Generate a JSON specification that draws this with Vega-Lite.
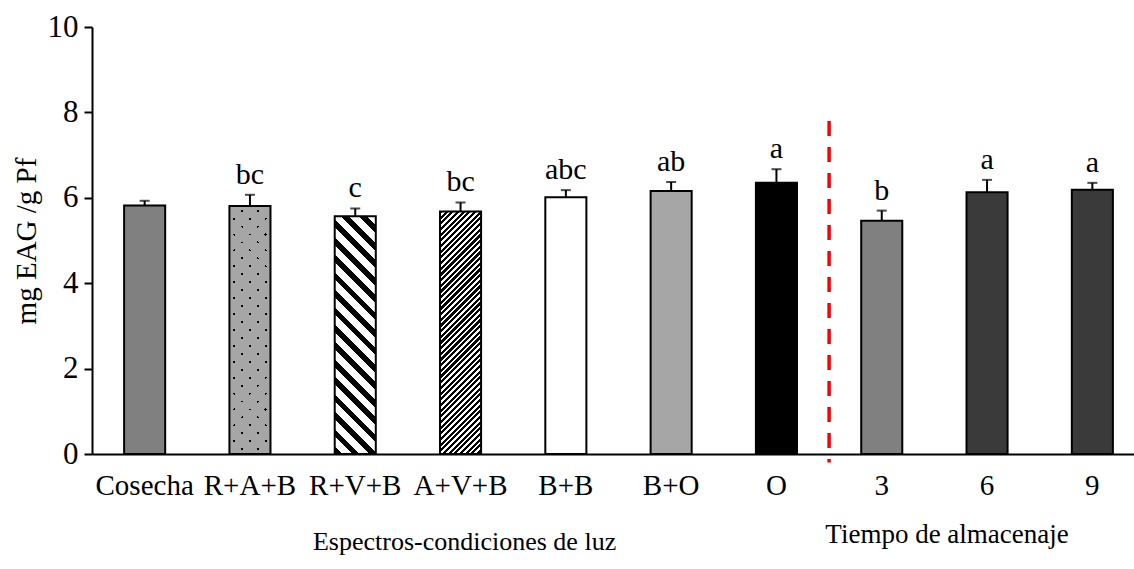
{
  "$schema": "https://vega.github.io/schema/vega-lite/v6.json",
  "width": 1042,
  "height": 427,
  "autosize": "none",
  "padding": {"left": 92, "top": 27, "right": 0, "bottom": 115},
  "background": "white",
  "config": {
    "view": {"stroke": null},
    "axis": {
      "grid": false,
      "labelFont": "Liberation Serif",
      "titleFont": "Liberation Serif",
      "labelColor": "#000",
      "titleColor": "#000",
      "domainColor": "#000",
      "tickColor": "#000",
      "titleFontWeight": "normal",
      "domainWidth": 2,
      "tickWidth": 2
    }
  },
  "datasets": {
    "fenoles": [
      {"cat": "Cosecha", "value": 5.82, "upper": 5.93, "letter": ""},
      {"cat": "R+A+B", "value": 5.81, "upper": 6.07, "letter": "bc"},
      {"cat": "R+V+B", "value": 5.57, "upper": 5.75, "letter": "c"},
      {"cat": "A+V+B", "value": 5.68, "upper": 5.89, "letter": "bc"},
      {"cat": "B+B", "value": 6.01, "upper": 6.18, "letter": "abc"},
      {"cat": "B+O", "value": 6.16, "upper": 6.37, "letter": "ab"},
      {"cat": "O", "value": 6.35, "upper": 6.67, "letter": "a"},
      {"cat": "3", "value": 5.46, "upper": 5.70, "letter": "b"},
      {"cat": "6", "value": 6.13, "upper": 6.42, "letter": "a"},
      {"cat": "9", "value": 6.19, "upper": 6.35, "letter": "a"}
    ]
  },
  "data": {"name": "fenoles"},
  "encoding": {
    "x": {
      "field": "cat",
      "type": "nominal",
      "sort": null,
      "scale": {
        "domain": ["Cosecha", "R+A+B", "R+V+B", "A+V+B", "B+B", "B+O", "O", "3", "6", "9"],
        "range": [0, 1053],
        "paddingInner": 0.61,
        "paddingOuter": 0.305
      },
      "axis": {
        "title": null,
        "ticks": false,
        "labelAngle": 0,
        "labelFontSize": 29,
        "labelPadding": 17,
        "labelBaseline": "top"
      }
    }
  },
  "layer": [
    {
      "mark": {"type": "bar", "strokeWidth": 0},
      "encoding": {
        "y": {
          "field": "value",
          "type": "quantitative",
          "scale": {"domain": [0, 10], "nice": false},
          "axis": {
            "values": [0, 2, 4, 6, 8, 10],
            "tickSize": 8,
            "labelFontSize": 31,
            "labelPadding": 6,
            "title": "mg EAG /g Pf",
            "titleFontSize": 29,
            "titlePadding": 6
          }
        },
        "fill": {
          "field": "cat",
          "type": "nominal",
          "legend": null,
          "scale": {
            "domain": ["Cosecha", "R+A+B", "R+V+B", "A+V+B", "B+B", "B+O", "O", "3", "6", "9"],
            "range": ["#808080", "#a6a6a6", "#ffffff", "#ffffff", "#ffffff", "#a6a6a6", "#000000", "#808080", "#3a3a3a", "#3a3a3a"]
          }
        }
      }
    },
    {
      "transform": [{"filter": "datum.cat === 'R+A+B'"}],
      "mark": {
        "type": "bar",
        "strokeWidth": 0,
        "fill": {
          "gradient": "linear", "x1": 0, "y1": 0, "x2": 0.1878, "y2": 1.1346,
          "stops": [
            {"offset": 0, "color": "#000"}, {"offset": 0.01, "color": "#000"}, {"offset": 0.01, "color": "rgba(0,0,0,0)"}, {"offset": 0.055, "color": "rgba(0,0,0,0)"},
            {"offset": 0.055, "color": "#000"}, {"offset": 0.065, "color": "#000"}, {"offset": 0.065, "color": "rgba(0,0,0,0)"}, {"offset": 0.11, "color": "rgba(0,0,0,0)"},
            {"offset": 0.11, "color": "#000"}, {"offset": 0.12, "color": "#000"}, {"offset": 0.12, "color": "rgba(0,0,0,0)"}, {"offset": 0.165, "color": "rgba(0,0,0,0)"},
            {"offset": 0.165, "color": "#000"}, {"offset": 0.175, "color": "#000"}, {"offset": 0.175, "color": "rgba(0,0,0,0)"}, {"offset": 0.22, "color": "rgba(0,0,0,0)"},
            {"offset": 0.22, "color": "#000"}, {"offset": 0.23, "color": "#000"}, {"offset": 0.23, "color": "rgba(0,0,0,0)"}, {"offset": 0.275, "color": "rgba(0,0,0,0)"},
            {"offset": 0.275, "color": "#000"}, {"offset": 0.285, "color": "#000"}, {"offset": 0.285, "color": "rgba(0,0,0,0)"}, {"offset": 0.33, "color": "rgba(0,0,0,0)"},
            {"offset": 0.33, "color": "#000"}, {"offset": 0.34, "color": "#000"}, {"offset": 0.34, "color": "rgba(0,0,0,0)"}, {"offset": 0.385, "color": "rgba(0,0,0,0)"},
            {"offset": 0.385, "color": "#000"}, {"offset": 0.395, "color": "#000"}, {"offset": 0.395, "color": "rgba(0,0,0,0)"}, {"offset": 0.44, "color": "rgba(0,0,0,0)"},
            {"offset": 0.44, "color": "#000"}, {"offset": 0.45, "color": "#000"}, {"offset": 0.45, "color": "rgba(0,0,0,0)"}, {"offset": 0.495, "color": "rgba(0,0,0,0)"},
            {"offset": 0.495, "color": "#000"}, {"offset": 0.505, "color": "#000"}, {"offset": 0.505, "color": "rgba(0,0,0,0)"}, {"offset": 0.55, "color": "rgba(0,0,0,0)"},
            {"offset": 0.55, "color": "#000"}, {"offset": 0.56, "color": "#000"}, {"offset": 0.56, "color": "rgba(0,0,0,0)"}, {"offset": 0.605, "color": "rgba(0,0,0,0)"},
            {"offset": 0.605, "color": "#000"}, {"offset": 0.615, "color": "#000"}, {"offset": 0.615, "color": "rgba(0,0,0,0)"}, {"offset": 0.66, "color": "rgba(0,0,0,0)"},
            {"offset": 0.66, "color": "#000"}, {"offset": 0.67, "color": "#000"}, {"offset": 0.67, "color": "rgba(0,0,0,0)"}, {"offset": 0.715, "color": "rgba(0,0,0,0)"},
            {"offset": 0.715, "color": "#000"}, {"offset": 0.725, "color": "#000"}, {"offset": 0.725, "color": "rgba(0,0,0,0)"}, {"offset": 0.77, "color": "rgba(0,0,0,0)"},
            {"offset": 0.77, "color": "#000"}, {"offset": 0.78, "color": "#000"}, {"offset": 0.78, "color": "rgba(0,0,0,0)"}, {"offset": 0.825, "color": "rgba(0,0,0,0)"},
            {"offset": 0.825, "color": "#000"}, {"offset": 0.835, "color": "#000"}, {"offset": 0.835, "color": "rgba(0,0,0,0)"}, {"offset": 0.88, "color": "rgba(0,0,0,0)"},
            {"offset": 0.88, "color": "#000"}, {"offset": 0.89, "color": "#000"}, {"offset": 0.89, "color": "rgba(0,0,0,0)"}, {"offset": 0.935, "color": "rgba(0,0,0,0)"},
            {"offset": 0.935, "color": "#000"}, {"offset": 0.945, "color": "#000"}, {"offset": 0.945, "color": "rgba(0,0,0,0)"}, {"offset": 0.99, "color": "rgba(0,0,0,0)"},
            {"offset": 0.99, "color": "#000"}, {"offset": 1, "color": "#000"}
          ]
        }
      },
      "encoding": {"y": {"field": "value", "type": "quantitative"}}
    },
    {
      "transform": [{"filter": "datum.cat === 'R+A+B'"}],
      "mark": {
        "type": "bar",
        "strokeWidth": 0,
        "fill": {
          "gradient": "linear", "x1": 0, "y1": 1, "x2": 0.1878, "y2": -0.1346,
          "stops": [
            {"offset": 0, "color": "rgba(0,0,0,0)"}, {"offset": 0.01, "color": "rgba(0,0,0,0)"}, {"offset": 0.01, "color": "#a6a6a6"}, {"offset": 0.055, "color": "#a6a6a6"},
            {"offset": 0.055, "color": "rgba(0,0,0,0)"}, {"offset": 0.065, "color": "rgba(0,0,0,0)"}, {"offset": 0.065, "color": "#a6a6a6"}, {"offset": 0.11, "color": "#a6a6a6"},
            {"offset": 0.11, "color": "rgba(0,0,0,0)"}, {"offset": 0.12, "color": "rgba(0,0,0,0)"}, {"offset": 0.12, "color": "#a6a6a6"}, {"offset": 0.165, "color": "#a6a6a6"},
            {"offset": 0.165, "color": "rgba(0,0,0,0)"}, {"offset": 0.175, "color": "rgba(0,0,0,0)"}, {"offset": 0.175, "color": "#a6a6a6"}, {"offset": 0.22, "color": "#a6a6a6"},
            {"offset": 0.22, "color": "rgba(0,0,0,0)"}, {"offset": 0.23, "color": "rgba(0,0,0,0)"}, {"offset": 0.23, "color": "#a6a6a6"}, {"offset": 0.275, "color": "#a6a6a6"},
            {"offset": 0.275, "color": "rgba(0,0,0,0)"}, {"offset": 0.285, "color": "rgba(0,0,0,0)"}, {"offset": 0.285, "color": "#a6a6a6"}, {"offset": 0.33, "color": "#a6a6a6"},
            {"offset": 0.33, "color": "rgba(0,0,0,0)"}, {"offset": 0.34, "color": "rgba(0,0,0,0)"}, {"offset": 0.34, "color": "#a6a6a6"}, {"offset": 0.385, "color": "#a6a6a6"},
            {"offset": 0.385, "color": "rgba(0,0,0,0)"}, {"offset": 0.395, "color": "rgba(0,0,0,0)"}, {"offset": 0.395, "color": "#a6a6a6"}, {"offset": 0.44, "color": "#a6a6a6"},
            {"offset": 0.44, "color": "rgba(0,0,0,0)"}, {"offset": 0.45, "color": "rgba(0,0,0,0)"}, {"offset": 0.45, "color": "#a6a6a6"}, {"offset": 0.495, "color": "#a6a6a6"},
            {"offset": 0.495, "color": "rgba(0,0,0,0)"}, {"offset": 0.505, "color": "rgba(0,0,0,0)"}, {"offset": 0.505, "color": "#a6a6a6"}, {"offset": 0.55, "color": "#a6a6a6"},
            {"offset": 0.55, "color": "rgba(0,0,0,0)"}, {"offset": 0.56, "color": "rgba(0,0,0,0)"}, {"offset": 0.56, "color": "#a6a6a6"}, {"offset": 0.605, "color": "#a6a6a6"},
            {"offset": 0.605, "color": "rgba(0,0,0,0)"}, {"offset": 0.615, "color": "rgba(0,0,0,0)"}, {"offset": 0.615, "color": "#a6a6a6"}, {"offset": 0.66, "color": "#a6a6a6"},
            {"offset": 0.66, "color": "rgba(0,0,0,0)"}, {"offset": 0.67, "color": "rgba(0,0,0,0)"}, {"offset": 0.67, "color": "#a6a6a6"}, {"offset": 0.715, "color": "#a6a6a6"},
            {"offset": 0.715, "color": "rgba(0,0,0,0)"}, {"offset": 0.725, "color": "rgba(0,0,0,0)"}, {"offset": 0.725, "color": "#a6a6a6"}, {"offset": 0.77, "color": "#a6a6a6"},
            {"offset": 0.77, "color": "rgba(0,0,0,0)"}, {"offset": 0.78, "color": "rgba(0,0,0,0)"}, {"offset": 0.78, "color": "#a6a6a6"}, {"offset": 0.825, "color": "#a6a6a6"},
            {"offset": 0.825, "color": "rgba(0,0,0,0)"}, {"offset": 0.835, "color": "rgba(0,0,0,0)"}, {"offset": 0.835, "color": "#a6a6a6"}, {"offset": 0.88, "color": "#a6a6a6"},
            {"offset": 0.88, "color": "rgba(0,0,0,0)"}, {"offset": 0.89, "color": "rgba(0,0,0,0)"}, {"offset": 0.89, "color": "#a6a6a6"}, {"offset": 0.935, "color": "#a6a6a6"},
            {"offset": 0.935, "color": "rgba(0,0,0,0)"}, {"offset": 0.945, "color": "rgba(0,0,0,0)"}, {"offset": 0.945, "color": "#a6a6a6"}, {"offset": 0.99, "color": "#a6a6a6"},
            {"offset": 0.99, "color": "rgba(0,0,0,0)"}, {"offset": 1, "color": "rgba(0,0,0,0)"}
          ]
        }
      },
      "encoding": {"y": {"field": "value", "type": "quantitative"}}
    },
    {
      "transform": [{"filter": "datum.cat === 'R+V+B'"}],
      "mark": {
        "type": "bar",
        "strokeWidth": 0,
        "fill": {
          "gradient": "linear", "x1": 0, "y1": 1, "x2": 0.1967, "y2": -0.1388,
          "stops": [
            {"offset": 0, "color": "#000"}, {"offset": 0.028, "color": "#000"}, {"offset": 0.028, "color": "#fff"}, {"offset": 0.0625, "color": "#fff"},
            {"offset": 0.0625, "color": "#000"}, {"offset": 0.0905, "color": "#000"}, {"offset": 0.0905, "color": "#fff"}, {"offset": 0.125, "color": "#fff"},
            {"offset": 0.125, "color": "#000"}, {"offset": 0.153, "color": "#000"}, {"offset": 0.153, "color": "#fff"}, {"offset": 0.1875, "color": "#fff"},
            {"offset": 0.1875, "color": "#000"}, {"offset": 0.2155, "color": "#000"}, {"offset": 0.2155, "color": "#fff"}, {"offset": 0.25, "color": "#fff"},
            {"offset": 0.25, "color": "#000"}, {"offset": 0.278, "color": "#000"}, {"offset": 0.278, "color": "#fff"}, {"offset": 0.3125, "color": "#fff"},
            {"offset": 0.3125, "color": "#000"}, {"offset": 0.3405, "color": "#000"}, {"offset": 0.3405, "color": "#fff"}, {"offset": 0.375, "color": "#fff"},
            {"offset": 0.375, "color": "#000"}, {"offset": 0.403, "color": "#000"}, {"offset": 0.403, "color": "#fff"}, {"offset": 0.4375, "color": "#fff"},
            {"offset": 0.4375, "color": "#000"}, {"offset": 0.4655, "color": "#000"}, {"offset": 0.4655, "color": "#fff"}, {"offset": 0.5, "color": "#fff"},
            {"offset": 0.5, "color": "#000"}, {"offset": 0.528, "color": "#000"}, {"offset": 0.528, "color": "#fff"}, {"offset": 0.5625, "color": "#fff"},
            {"offset": 0.5625, "color": "#000"}, {"offset": 0.5905, "color": "#000"}, {"offset": 0.5905, "color": "#fff"}, {"offset": 0.625, "color": "#fff"},
            {"offset": 0.625, "color": "#000"}, {"offset": 0.653, "color": "#000"}, {"offset": 0.653, "color": "#fff"}, {"offset": 0.6875, "color": "#fff"},
            {"offset": 0.6875, "color": "#000"}, {"offset": 0.7155, "color": "#000"}, {"offset": 0.7155, "color": "#fff"}, {"offset": 0.75, "color": "#fff"},
            {"offset": 0.75, "color": "#000"}, {"offset": 0.778, "color": "#000"}, {"offset": 0.778, "color": "#fff"}, {"offset": 0.8125, "color": "#fff"},
            {"offset": 0.8125, "color": "#000"}, {"offset": 0.8405, "color": "#000"}, {"offset": 0.8405, "color": "#fff"}, {"offset": 0.875, "color": "#fff"},
            {"offset": 0.875, "color": "#000"}, {"offset": 0.903, "color": "#000"}, {"offset": 0.903, "color": "#fff"}, {"offset": 0.9375, "color": "#fff"},
            {"offset": 0.9375, "color": "#000"}, {"offset": 0.9655, "color": "#000"}, {"offset": 0.9655, "color": "#fff"}, {"offset": 1, "color": "#fff"}
          ]
        }
      },
      "encoding": {"y": {"field": "value", "type": "quantitative"}}
    },
    {
      "transform": [{"filter": "datum.cat === 'A+V+B'"}],
      "mark": {
        "type": "bar",
        "strokeWidth": 0,
        "fill": {
          "gradient": "linear", "x1": 0, "y1": 0, "x2": 0.1925, "y2": 1.1369,
          "stops": [
            {"offset": 0, "color": "#000"}, {"offset": 0.011, "color": "#000"}, {"offset": 0.011, "color": "#fff"}, {"offset": 0.02, "color": "#fff"},
            {"offset": 0.02, "color": "#000"}, {"offset": 0.031, "color": "#000"}, {"offset": 0.031, "color": "#fff"}, {"offset": 0.04, "color": "#fff"},
            {"offset": 0.04, "color": "#000"}, {"offset": 0.051, "color": "#000"}, {"offset": 0.051, "color": "#fff"}, {"offset": 0.06, "color": "#fff"},
            {"offset": 0.06, "color": "#000"}, {"offset": 0.071, "color": "#000"}, {"offset": 0.071, "color": "#fff"}, {"offset": 0.08, "color": "#fff"},
            {"offset": 0.08, "color": "#000"}, {"offset": 0.091, "color": "#000"}, {"offset": 0.091, "color": "#fff"}, {"offset": 0.1, "color": "#fff"},
            {"offset": 0.1, "color": "#000"}, {"offset": 0.111, "color": "#000"}, {"offset": 0.111, "color": "#fff"}, {"offset": 0.12, "color": "#fff"},
            {"offset": 0.12, "color": "#000"}, {"offset": 0.131, "color": "#000"}, {"offset": 0.131, "color": "#fff"}, {"offset": 0.14, "color": "#fff"},
            {"offset": 0.14, "color": "#000"}, {"offset": 0.151, "color": "#000"}, {"offset": 0.151, "color": "#fff"}, {"offset": 0.16, "color": "#fff"},
            {"offset": 0.16, "color": "#000"}, {"offset": 0.171, "color": "#000"}, {"offset": 0.171, "color": "#fff"}, {"offset": 0.18, "color": "#fff"},
            {"offset": 0.18, "color": "#000"}, {"offset": 0.191, "color": "#000"}, {"offset": 0.191, "color": "#fff"}, {"offset": 0.2, "color": "#fff"},
            {"offset": 0.2, "color": "#000"}, {"offset": 0.211, "color": "#000"}, {"offset": 0.211, "color": "#fff"}, {"offset": 0.22, "color": "#fff"},
            {"offset": 0.22, "color": "#000"}, {"offset": 0.231, "color": "#000"}, {"offset": 0.231, "color": "#fff"}, {"offset": 0.24, "color": "#fff"},
            {"offset": 0.24, "color": "#000"}, {"offset": 0.251, "color": "#000"}, {"offset": 0.251, "color": "#fff"}, {"offset": 0.26, "color": "#fff"},
            {"offset": 0.26, "color": "#000"}, {"offset": 0.271, "color": "#000"}, {"offset": 0.271, "color": "#fff"}, {"offset": 0.28, "color": "#fff"},
            {"offset": 0.28, "color": "#000"}, {"offset": 0.291, "color": "#000"}, {"offset": 0.291, "color": "#fff"}, {"offset": 0.3, "color": "#fff"},
            {"offset": 0.3, "color": "#000"}, {"offset": 0.311, "color": "#000"}, {"offset": 0.311, "color": "#fff"}, {"offset": 0.32, "color": "#fff"},
            {"offset": 0.32, "color": "#000"}, {"offset": 0.331, "color": "#000"}, {"offset": 0.331, "color": "#fff"}, {"offset": 0.34, "color": "#fff"},
            {"offset": 0.34, "color": "#000"}, {"offset": 0.351, "color": "#000"}, {"offset": 0.351, "color": "#fff"}, {"offset": 0.36, "color": "#fff"},
            {"offset": 0.36, "color": "#000"}, {"offset": 0.371, "color": "#000"}, {"offset": 0.371, "color": "#fff"}, {"offset": 0.38, "color": "#fff"},
            {"offset": 0.38, "color": "#000"}, {"offset": 0.391, "color": "#000"}, {"offset": 0.391, "color": "#fff"}, {"offset": 0.4, "color": "#fff"},
            {"offset": 0.4, "color": "#000"}, {"offset": 0.411, "color": "#000"}, {"offset": 0.411, "color": "#fff"}, {"offset": 0.42, "color": "#fff"},
            {"offset": 0.42, "color": "#000"}, {"offset": 0.431, "color": "#000"}, {"offset": 0.431, "color": "#fff"}, {"offset": 0.44, "color": "#fff"},
            {"offset": 0.44, "color": "#000"}, {"offset": 0.451, "color": "#000"}, {"offset": 0.451, "color": "#fff"}, {"offset": 0.46, "color": "#fff"},
            {"offset": 0.46, "color": "#000"}, {"offset": 0.471, "color": "#000"}, {"offset": 0.471, "color": "#fff"}, {"offset": 0.48, "color": "#fff"},
            {"offset": 0.48, "color": "#000"}, {"offset": 0.491, "color": "#000"}, {"offset": 0.491, "color": "#fff"}, {"offset": 0.5, "color": "#fff"},
            {"offset": 0.5, "color": "#000"}, {"offset": 0.511, "color": "#000"}, {"offset": 0.511, "color": "#fff"}, {"offset": 0.52, "color": "#fff"},
            {"offset": 0.52, "color": "#000"}, {"offset": 0.531, "color": "#000"}, {"offset": 0.531, "color": "#fff"}, {"offset": 0.54, "color": "#fff"},
            {"offset": 0.54, "color": "#000"}, {"offset": 0.551, "color": "#000"}, {"offset": 0.551, "color": "#fff"}, {"offset": 0.56, "color": "#fff"},
            {"offset": 0.56, "color": "#000"}, {"offset": 0.571, "color": "#000"}, {"offset": 0.571, "color": "#fff"}, {"offset": 0.58, "color": "#fff"},
            {"offset": 0.58, "color": "#000"}, {"offset": 0.591, "color": "#000"}, {"offset": 0.591, "color": "#fff"}, {"offset": 0.6, "color": "#fff"},
            {"offset": 0.6, "color": "#000"}, {"offset": 0.611, "color": "#000"}, {"offset": 0.611, "color": "#fff"}, {"offset": 0.62, "color": "#fff"},
            {"offset": 0.62, "color": "#000"}, {"offset": 0.631, "color": "#000"}, {"offset": 0.631, "color": "#fff"}, {"offset": 0.64, "color": "#fff"},
            {"offset": 0.64, "color": "#000"}, {"offset": 0.651, "color": "#000"}, {"offset": 0.651, "color": "#fff"}, {"offset": 0.66, "color": "#fff"},
            {"offset": 0.66, "color": "#000"}, {"offset": 0.671, "color": "#000"}, {"offset": 0.671, "color": "#fff"}, {"offset": 0.68, "color": "#fff"},
            {"offset": 0.68, "color": "#000"}, {"offset": 0.691, "color": "#000"}, {"offset": 0.691, "color": "#fff"}, {"offset": 0.7, "color": "#fff"},
            {"offset": 0.7, "color": "#000"}, {"offset": 0.711, "color": "#000"}, {"offset": 0.711, "color": "#fff"}, {"offset": 0.72, "color": "#fff"},
            {"offset": 0.72, "color": "#000"}, {"offset": 0.731, "color": "#000"}, {"offset": 0.731, "color": "#fff"}, {"offset": 0.74, "color": "#fff"},
            {"offset": 0.74, "color": "#000"}, {"offset": 0.751, "color": "#000"}, {"offset": 0.751, "color": "#fff"}, {"offset": 0.76, "color": "#fff"},
            {"offset": 0.76, "color": "#000"}, {"offset": 0.771, "color": "#000"}, {"offset": 0.771, "color": "#fff"}, {"offset": 0.78, "color": "#fff"},
            {"offset": 0.78, "color": "#000"}, {"offset": 0.791, "color": "#000"}, {"offset": 0.791, "color": "#fff"}, {"offset": 0.8, "color": "#fff"},
            {"offset": 0.8, "color": "#000"}, {"offset": 0.811, "color": "#000"}, {"offset": 0.811, "color": "#fff"}, {"offset": 0.82, "color": "#fff"},
            {"offset": 0.82, "color": "#000"}, {"offset": 0.831, "color": "#000"}, {"offset": 0.831, "color": "#fff"}, {"offset": 0.84, "color": "#fff"},
            {"offset": 0.84, "color": "#000"}, {"offset": 0.851, "color": "#000"}, {"offset": 0.851, "color": "#fff"}, {"offset": 0.86, "color": "#fff"},
            {"offset": 0.86, "color": "#000"}, {"offset": 0.871, "color": "#000"}, {"offset": 0.871, "color": "#fff"}, {"offset": 0.88, "color": "#fff"},
            {"offset": 0.88, "color": "#000"}, {"offset": 0.891, "color": "#000"}, {"offset": 0.891, "color": "#fff"}, {"offset": 0.9, "color": "#fff"},
            {"offset": 0.9, "color": "#000"}, {"offset": 0.911, "color": "#000"}, {"offset": 0.911, "color": "#fff"}, {"offset": 0.92, "color": "#fff"},
            {"offset": 0.92, "color": "#000"}, {"offset": 0.931, "color": "#000"}, {"offset": 0.931, "color": "#fff"}, {"offset": 0.94, "color": "#fff"},
            {"offset": 0.94, "color": "#000"}, {"offset": 0.951, "color": "#000"}, {"offset": 0.951, "color": "#fff"}, {"offset": 0.96, "color": "#fff"},
            {"offset": 0.96, "color": "#000"}, {"offset": 0.971, "color": "#000"}, {"offset": 0.971, "color": "#fff"}, {"offset": 0.98, "color": "#fff"},
            {"offset": 0.98, "color": "#000"}, {"offset": 0.991, "color": "#000"}, {"offset": 0.991, "color": "#fff"}, {"offset": 1, "color": "#fff"}
          ]
        }
      },
      "encoding": {"y": {"field": "value", "type": "quantitative"}}
    },
    {
      "mark": {"type": "bar", "filled": false, "stroke": "#000", "strokeWidth": 2},
      "encoding": {"y": {"field": "value", "type": "quantitative"}}
    },
    {
      "mark": {"type": "rule", "color": "#000", "strokeWidth": 2},
      "encoding": {
        "y": {"field": "value", "type": "quantitative"},
        "y2": {"field": "upper"}
      }
    },
    {
      "mark": {"type": "tick", "orient": "horizontal", "color": "#000", "size": 10, "thickness": 2},
      "encoding": {"y": {"field": "upper", "type": "quantitative"}}
    },
    {
      "mark": {"type": "text", "font": "Liberation Serif", "fontSize": 30, "color": "#000", "baseline": "alphabetic", "dy": -11},
      "encoding": {
        "y": {"field": "upper", "type": "quantitative"},
        "text": {"field": "letter"}
      }
    },
    {
      "data": {"values": [{}]},
      "mark": {"type": "rule", "color": "#ff0000", "strokeWidth": 3.5, "strokeDash": [15, 11], "xOffset": 52.65},
      "encoding": {
        "x": {"datum": "O", "bandPosition": 0.5},
        "y": {"datum": 7.8, "type": "quantitative"},
        "y2": {"datum": -0.2}
      }
    },
    {
      "data": {"values": [{}]},
      "mark": {"type": "text", "text": "Espectros-condiciones de luz", "font": "Liberation Serif", "fontSize": 26, "color": "#000", "baseline": "middle", "xOffset": 4},
      "encoding": {
        "x": {"datum": "A+V+B"},
        "y": {"datum": -2.05, "type": "quantitative"}
      }
    },
    {
      "data": {"values": [{}]},
      "mark": {"type": "text", "text": "Tiempo de almacenaje", "font": "Liberation Serif", "fontSize": 27, "color": "#000", "baseline": "middle", "xOffset": -40},
      "encoding": {
        "x": {"datum": "6"},
        "y": {"datum": -1.9, "type": "quantitative"}
      }
    }
  ]
}
